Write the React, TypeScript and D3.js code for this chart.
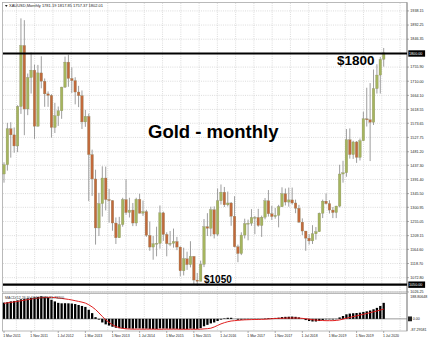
import React from "react";
import * as d3 from "d3";

const W = 428;
const H = 343;

const firstMonth = new Date(2011, 2, 1);

const opens = [
  1409, 1439, 1556, 1536, 1500, 1628, 1826, 1620, 1722, 1746,
  1564, 1737, 1710, 1669, 1664, 1560, 1598, 1614, 1691, 1772,
  1719, 1712, 1675, 1663, 1578, 1596, 1472, 1393, 1234, 1313,
  1396, 1326, 1323, 1250, 1202, 1245, 1326, 1284, 1292, 1250,
  1327, 1282, 1287, 1210, 1172, 1183, 1184, 1283, 1213, 1183,
  1184, 1190, 1172, 1095, 1134, 1115, 1142, 1065, 1061, 1116,
  1238, 1233, 1293, 1214, 1322, 1350, 1309, 1315, 1272, 1173,
  1151, 1211, 1248, 1249, 1268, 1268, 1242, 1269, 1322, 1280,
  1271, 1275, 1303, 1345, 1318, 1325, 1315, 1298, 1253, 1224,
  1201, 1192, 1215, 1222, 1282, 1321, 1313, 1292, 1284, 1305,
  1409, 1413, 1520, 1472, 1513, 1463, 1517, 1588, 1585, 1577,
  1686, 1730, 1781.19,
];
const highs = [
  1447, 1575, 1577, 1560, 1632, 1914, 1908, 1735, 1803, 1764,
  1763, 1791, 1719, 1677, 1668, 1640, 1628, 1692, 1790, 1796,
  1755, 1723, 1695, 1680, 1617, 1605, 1488, 1423, 1348, 1434,
  1433, 1361, 1324, 1268, 1270, 1332, 1392, 1332, 1315, 1332,
  1345, 1323, 1293, 1255, 1208, 1238, 1307, 1287, 1220, 1224,
  1232, 1205, 1174, 1170, 1157, 1191, 1142, 1088, 1128, 1263,
  1282, 1303, 1304, 1362, 1375, 1367, 1352, 1318, 1337, 1180,
  1220, 1264, 1261, 1295, 1273, 1296, 1274, 1331, 1357, 1306,
  1299, 1309, 1366, 1362, 1365, 1365, 1326, 1309, 1265, 1224,
  1214, 1243, 1237, 1284, 1326, 1346, 1324, 1302, 1306, 1439,
  1452, 1555, 1557, 1517, 1516, 1524, 1611, 1689, 1704, 1748,
  1765, 1789, 1817.85,
];
const lows = [
  1381, 1420, 1462, 1478, 1480, 1604, 1535, 1600, 1670, 1523,
  1563, 1687, 1627, 1627, 1527, 1542, 1565, 1588, 1688, 1692,
  1672, 1635, 1626, 1555, 1562, 1321, 1338, 1180, 1208, 1271,
  1291, 1251, 1225, 1182, 1202, 1238, 1277, 1268, 1240, 1240,
  1281, 1273, 1205, 1160, 1131, 1142, 1167, 1192, 1142, 1175,
  1170, 1162, 1077, 1080, 1098, 1106, 1052, 1046, 1061, 1107,
  1208, 1207, 1200, 1208, 1310, 1302, 1304, 1241, 1171, 1123,
  1146, 1200, 1194, 1241, 1214, 1238, 1205, 1262, 1271, 1260,
  1264, 1236, 1302, 1307, 1303, 1310, 1282, 1250, 1211, 1160,
  1180, 1182, 1196, 1221, 1266, 1310, 1281, 1266, 1266, 1301,
  1381, 1400, 1459, 1458, 1445, 1453, 1516, 1563, 1451, 1568,
  1670, 1670, 1757.37,
];
const closes = [
  1439, 1556, 1536, 1500, 1628, 1826, 1620, 1722, 1746, 1564,
  1737, 1710, 1669, 1664, 1560, 1598, 1614, 1691, 1772, 1719,
  1712, 1675, 1663, 1578, 1596, 1472, 1393, 1234, 1313, 1396,
  1326, 1323, 1250, 1202, 1245, 1326, 1284, 1292, 1250, 1327,
  1282, 1287, 1210, 1172, 1183, 1184, 1283, 1213, 1183, 1184,
  1190, 1172, 1095, 1134, 1115, 1142, 1065, 1061, 1116, 1238,
  1233, 1293, 1214, 1322, 1350, 1309, 1315, 1272, 1173, 1151,
  1211, 1248, 1249, 1268, 1268, 1242, 1269, 1322, 1280, 1271,
  1275, 1303, 1345, 1318, 1325, 1315, 1298, 1253, 1224, 1201,
  1192, 1215, 1222, 1282, 1321, 1313, 1292, 1284, 1305, 1409,
  1413, 1520, 1472, 1513, 1463, 1517, 1588, 1585, 1577, 1686,
  1730, 1781, 1802.01,
];

const macdMain = [
  136, 140, 146, 150, 155, 164, 168, 172, 177, 180,
  184, 188.8, 185, 180, 160, 146, 134, 130, 131, 130,
  128, 124, 116, 108, 100, 76, 48, 14, -6, -30,
  -46, -56, -66, -74, -78, -80, -80, -81, -82, -80,
  -80, -81, -82, -84, -85, -85, -80, -81, -82, -83,
  -83, -84, -86, -86, -86, -82, -84, -84, -78, -62,
  -50, -38, -30, -18, -6, 4, 9, 9, 0, -7,
  -7, -5, -4, -2, -1, -2, -1, 3, 6, 7,
  8, 10, 15, 17, 18, 19, 17, 12, 3, -10,
  -18, -22, -22, -18, -10, -4, -4, -5, -3, 12,
  24, 38, 44, 47, 49, 52, 58, 63, 70, 80,
  92, 108, 134,
];
const macdSignal = [
  130, 134, 138, 142, 146, 151, 156, 161, 166, 170,
  174, 177, 179, 180, 180, 178, 175, 171, 167, 163,
  158, 152, 146, 140, 132, 118, 100, 78, 50, 20,
  -8, -30, -50, -64, -74, -80, -83, -85, -86, -86,
  -86, -86, -86, -86, -86, -87, -87, -86, -86, -86,
  -86, -86, -87, -87.3, -87, -87, -87, -87, -86, -84,
  -82, -78, -68, -55, -42, -32, -24, -18, -15, -12,
  -10, -8, -7, -6, -5, -5, -4, -3, -1, 1,
  3, 4, 5, 6, 7, 7, 7, 6, 4, 1,
  -3, -7, -10, -12, -14, -15, -15, -15, -13, -9,
  -2, 5, 12, 19, 25, 32, 38, 45, 52, 59,
  66, 74, 81.73,
];

const priceTickLabels = [
  "1938.15", "1892.25", "1846.35", "1755.90", "1710.00", "1664.10",
  "1618.55", "1573.65", "1527.75", "1481.20", "1437.30", "1391.40",
  "1345.50", "1300.95", "1255.05", "1209.15", "1164.60", "1118.70",
  "1072.80", "1026.25",
];
const markedLevels = [1800, 1050];
const markedAxisLabels = ["1800.00", "1050.00"];
const markedTexts = ["$1800", "$1050"];
const macdAxisLabels = ["188.80648", "-87.29581"];
const macdZeroLabel = "0.00";
const xTickEvery = 8;
const titleText = "Gold - monthly";
const headerText = "XAUUSD,Monthly  1781.19 1817.85 1757.37 1802.01";
const macdText = "MACD(12,26,9) 134.08648 81.73200";

const BULL = "#a5b55e";
const BEAR = "#c2693b";
const WICK = "#858585";
const GRID = "#c4c4c4";
const FONT = "'Liberation Sans', Arial, sans-serif";

export default function App() {
  const n = closes.length;
  const months = d3.range(n).map((i) => d3.timeMonth.offset(firstMonth, i));
  const fmt = d3.timeFormat("%-d %b %Y");

  const left = 3;
  const right = 407;
  const mainTop = 3;
  const mainBottom = 292;
  const macdTop = 294;
  const macdBottom = 331;

  const x = d3.scaleLinear().domain([0, n - 1]).range([4, 383.7]);
  const y = d3.scaleLinear().domain([1026.25, 1963.8]).range([mainBottom, mainTop]);
  const ym = d3
    .scaleLinear()
    .domain([-87.3, 188.8])
    .range([329.3, 296.3]);

  const vGrid = d3.range(16.4, right, 18.27);
  const bodyW = 2.6;
  const histW = 2.3;

  const signalLine = d3
    .line<number>()
    .x((_, i) => x(i))
    .y((v) => ym(v));

  const xTicks = d3.range(0, n, xTickEvery);

  return (
    <svg
      width={W}
      height={H}
      style={{ position: "absolute", left: 0, top: 0, background: "#fff" }}
      fontFamily={FONT}
    >
      <rect x={0} y={0} width={W} height={H} fill="#fff" />

      {/* grids */}
      <g stroke={GRID} strokeWidth={0.6} strokeDasharray="1 1.2">
        {vGrid.map((gx, i) => (
          <g key={"vg" + i}>
            <line x1={gx} x2={gx} y1={mainTop} y2={mainBottom} />
            <line x1={gx} x2={gx} y1={macdTop} y2={macdBottom} />
          </g>
        ))}
        {priceTickLabels.map((t, i) => (
          <line key={"hg" + i} x1={left} x2={right} y1={y(+t)} y2={y(+t)} />
        ))}
      </g>

      {/* panel frames */}
      <rect
        x={left - 0.5}
        y={mainTop - 0.5}
        width={right - left + 0.5}
        height={mainBottom - mainTop + 0.5}
        fill="none"
        stroke="#a8a8a8"
        strokeWidth={0.8}
      />
      <rect
        x={left - 0.5}
        y={macdTop - 0.5}
        width={right - left + 0.5}
        height={macdBottom - macdTop + 0.5}
        fill="none"
        stroke="#a8a8a8"
        strokeWidth={0.8}
      />
      <line x1={right} x2={right} y1={mainTop - 0.5} y2={macdBottom} stroke="#7a7a7a" strokeWidth={0.8} />

      {/* candles */}
      <g>
        {closes.map((c, i) => {
          const o = opens[i];
          const top = y(Math.max(o, c));
          const bot = y(Math.min(o, c));
          return (
            <g key={"c" + i}>
              <line x1={x(i)} x2={x(i)} y1={y(highs[i])} y2={y(lows[i])} stroke={WICK} strokeWidth={0.8} />
              <rect
                x={x(i) - bodyW / 2}
                y={top}
                width={bodyW}
                height={Math.max(0.8, bot - top)}
                fill={c >= o ? BULL : BEAR}
                stroke="#8a8a6a"
                strokeWidth={0.3}
              />
            </g>
          );
        })}
      </g>

      {/* marked levels */}
      {markedLevels.map((lv, i) => (
        <g key={"lv" + i}>
          <line x1={left} x2={right} y1={y(lv)} y2={y(lv)} stroke="#000" strokeWidth={2.2} />
          <rect x={408.3} y={y(lv) - 3.2} width={16.8} height={6.4} fill="#000" />
          <text x={409} y={y(lv)} dy="0.35em" fontSize={3.7} fill="#fff">
            {markedAxisLabels[i]}
          </text>
        </g>
      ))}

      {/* price axis labels */}
      {priceTickLabels.map((t, i) => (
        <g key={"pl" + i}>
          <line x1={right} x2={right + 2} y1={y(+t)} y2={y(+t)} stroke="#7a7a7a" strokeWidth={0.6} />
          <text x={410.3} y={y(+t)} dy="0.35em" fontSize={3.7} fill="#222">
            {t}
          </text>
        </g>
      ))}

      {/* header */}
      <path d="M5,5 L7.6,5 L6.3,6.9 Z" fill="#222" />
      <text x={9} y={7.3} fontSize={4} fill="#222">
        {headerText}
      </text>

      {/* annotations */}
      <text x={148} y={138} fontSize={18.5} fontWeight="bold" fill="#000">
        {titleText}
      </text>
      <text x={337} y={y(markedLevels[0]) + 12} fontSize={13.5} fontWeight="bold" fill="#000">
        {markedTexts[0]}
      </text>
      <text x={204} y={y(markedLevels[1]) - 1.6} fontSize={10} fontWeight="bold" fill="#000">
        {markedTexts[1]}
      </text>

      {/* MACD */}
      <line x1={left} x2={right} y1={ym(0)} y2={ym(0)} stroke="#808080" strokeWidth={0.8} />
      <g fill="#000">
        {macdMain.map((v, i) => (
          <rect
            key={"h" + i}
            x={x(i) - histW / 2}
            y={Math.min(ym(v), ym(0))}
            width={histW}
            height={Math.abs(ym(v) - ym(0))}
          />
        ))}
      </g>
      <path d={signalLine(macdSignal) || ""} fill="none" stroke="#e01e1e" strokeWidth={1} />
      <text x={5} y={299.3} fontSize={3.6} fill="#333">
        {macdText}
      </text>
      <text x={410.3} y={ym(188.8)} dy="0.35em" fontSize={3.6} fill="#222">
        {macdAxisLabels[0]}
      </text>
      <text x={410.3} y={ym(-87.3)} dy="0.35em" fontSize={3.6} fill="#222">
        {macdAxisLabels[1]}
      </text>
      <rect x={408} y={ym(0) - 2.4} width={4} height={4.8} fill="#222" />
      <text x={412.8} y={ym(0)} dy="0.35em" fontSize={3.6} fill="#222">
        {macdZeroLabel}
      </text>

      {/* time axis */}
      {xTicks.map((i) => (
        <g key={"xt" + i}>
          <line x1={x(i)} x2={x(i)} y1={macdBottom} y2={macdBottom + 2} stroke="#7a7a7a" strokeWidth={0.6} />
          <text x={x(i) - 0.8} y={337.3} fontSize={3.5} fill="#222">
            {fmt(months[i])}
          </text>
        </g>
      ))}
    </svg>
  );
}
